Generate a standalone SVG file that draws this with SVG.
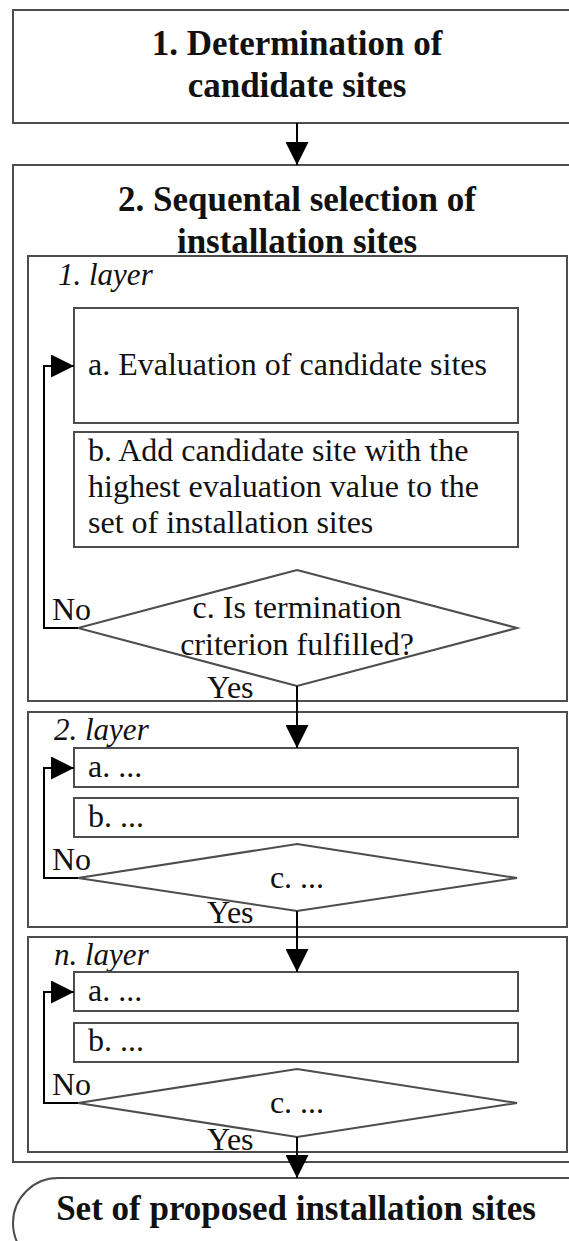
<svg xmlns="http://www.w3.org/2000/svg" width="569" height="1241" viewBox="0 0 569 1241">
<defs>
<style>
.box{fill:none;stroke:#4d4d4d;stroke-width:2}
.con{fill:none;stroke:#000;stroke-width:2}
.t{font-family:"Liberation Serif","Times New Roman",Times,serif;fill:#111}
.b{font-weight:bold;font-size:35px}
.r{font-size:32px}
.i{font-size:31px;font-style:italic}
.m{text-anchor:middle}
</style>
<marker id="ah" markerWidth="23" markerHeight="23" refX="23" refY="11.5" orient="auto" markerUnits="userSpaceOnUse">
<path d="M0,0 L23,11.5 L0,23 z" fill="#000"/>
</marker>
</defs>
<rect width="569" height="1241" fill="#fff"/>

<g id="step1">
<rect class="box" x="13" y="10" width="600" height="113"/>
<text class="t b m" x="297" y="55">1. Determination of</text>
<text class="t b m" x="297" y="97">candidate sites</text>
</g>

<g id="step2">
<rect class="box" x="13" y="165" width="600" height="997"/>
<text class="t b m" x="297" y="211">2. Sequental selection of</text>
<text class="t b m" x="297" y="253">installation sites</text>
</g>

<g id="layer1">
<rect class="box" x="28" y="256" width="539" height="445"/>
<text class="t i" x="58" y="285">1. layer</text>
</g>
<g id="l1a">
<rect class="box" x="74" y="308" width="444" height="115"/>
<text class="t r" x="88" y="375">a. Evaluation of candidate sites</text>
</g>
<g id="l1b">
<rect class="box" x="74" y="432" width="444" height="115"/>
<text class="t r" x="88" y="461">b. Add candidate site with the</text>
<text class="t r" x="88" y="497">highest evaluation value to the</text>
<text class="t r" x="88" y="533">set of installation sites</text>
</g>
<g id="l1c">
<polygon class="box" points="297,570 517,628 297,686 78,628"/>
<text class="t r m" x="297" y="618">c. Is termination</text>
<text class="t r m" x="297" y="655">criterion fulfilled?</text>
</g>

<g id="layer2">
<rect class="box" x="28" y="712" width="539" height="215"/>
<text class="t i" x="54" y="740">2. layer</text>
</g>
<g id="l2a">
<rect class="box" x="74" y="748" width="444" height="39"/>
<text class="t r" x="88" y="777">a. ...</text>
</g>
<g id="l2b">
<rect class="box" x="74" y="798" width="444" height="39"/>
<text class="t r" x="88" y="827">b. ...</text>
</g>
<g id="l2c">
<polygon class="box" points="297,844 517,878 297,911 78,878"/>
<text class="t r m" x="297" y="888">c. ...</text>
</g>

<g id="layern">
<rect class="box" x="28" y="937" width="539" height="215"/>
<text class="t i" x="54" y="965">n. layer</text>
</g>
<g id="lna">
<rect class="box" x="74" y="972" width="444" height="39"/>
<text class="t r" x="88" y="1001">a. ...</text>
</g>
<g id="lnb">
<rect class="box" x="74" y="1023" width="444" height="39"/>
<text class="t r" x="88" y="1051">b. ...</text>
</g>
<g id="lnc">
<polygon class="box" points="297,1069 517,1103 297,1137 78,1103"/>
<text class="t r m" x="297" y="1113">c. ...</text>
</g>

<g id="result">
<rect class="box" x="13" y="1178" width="600" height="90" rx="45" ry="45"/>
<text class="t b m" x="296" y="1220">Set of proposed installation sites</text>
</g>

<g id="connectors">
<line class="con" x1="297" y1="123" x2="297" y2="165" marker-end="url(#ah)"/>
<polyline class="con" points="78,628 44,628 44,366 74,366" marker-end="url(#ah)"/>
<line class="con" x1="297" y1="686" x2="297" y2="748" marker-end="url(#ah)"/>
<polyline class="con" points="78,878 44,878 44,768 74,768" marker-end="url(#ah)"/>
<line class="con" x1="297" y1="911" x2="297" y2="972" marker-end="url(#ah)"/>
<polyline class="con" points="78,1103 44,1103 44,992 74,992" marker-end="url(#ah)"/>
<line class="con" x1="297" y1="1137" x2="297" y2="1178" marker-end="url(#ah)"/>
<text class="t r" x="52" y="620">No</text>
<text class="t r" x="207" y="698">Yes</text>
<text class="t r" x="52" y="870">No</text>
<text class="t r" x="207" y="923">Yes</text>
<text class="t r" x="52" y="1095">No</text>
<text class="t r" x="207" y="1150">Yes</text>
</g>
</svg>
